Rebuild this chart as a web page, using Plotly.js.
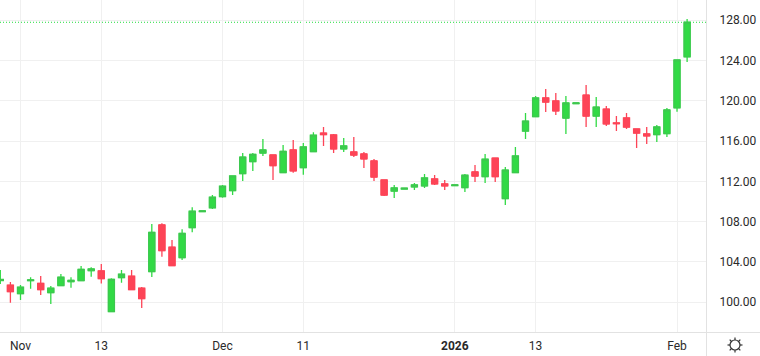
<!DOCTYPE html>
<html><head><meta charset="utf-8">
<script src="https://cdn.plot.ly/plotly-3.0.1.min.js"></script>
<style>html,body{margin:0;padding:0;background:#fff}#c{width:760px;height:356px}</style>
</head><body><div id="c"></div>
<script>
const highs=[103.2,102.01,101.72,102.48,102.61,101.62,102.81,102.48,103.6,103.47,103.8,102.38,103.2,103.2,101.52,107.77,107.84,106.18,107.24,109.42,109.06,110.64,111.64,112.56,114.81,114.81,116.2,114.61,115.6,116.1,115.8,116.86,117.39,116.7,116.3,116.4,114.91,114.22,112.13,111.64,111.31,111.83,112.73,112.63,112.13,111.64,112.73,113.62,114.71,114.31,113.42,115.41,118.78,120.47,121.16,120.76,120.47,119.77,121.56,120.37,119.47,118.48,118.78,117.19,117.39,117.59,119.27,124.11,128.1];
const lows=[101.82,99.96,100.23,101.35,100.72,99.83,101.65,101.45,102.14,102.54,101.85,99.07,101.94,101.25,99.43,102.51,104.52,103.63,104.2,106.94,108.99,109.26,110.38,110.64,112.03,113.03,114.51,112.13,112.86,112.86,112.66,114.94,115.5,114.81,114.91,114.41,113.32,112.03,110.54,110.35,111.24,111.14,111.34,111.64,111.14,111.57,110.94,111.93,111.83,111.93,109.65,112.86,116.2,118.41,118.88,118.58,116.7,119.7,117.39,117.39,117.49,116.99,117.19,115.31,115.7,115.9,116.4,118.91,123.83];
const opens=[102.16,101.69,100.85,102.14,101.88,100.95,101.65,102.04,102.14,103.13,103.11,99.07,102.44,102.58,101.39,103.04,107.67,105.46,104.42,107.4,108.99,109.38,110.48,111.07,112.76,113.95,114.81,114.61,112.86,115.11,113.35,114.94,116.79,116.6,115.21,114.91,114.71,114.02,112.13,111.04,111.24,111.44,111.54,112.23,111.74,111.57,111.37,112.93,112.46,114.31,110.28,112.86,116.99,118.41,120.27,119.97,118.28,119.7,120.56,118.48,119.17,117.79,118.28,117.19,116.7,116.63,116.73,119.3,124.36];
const closes=[102.26,101.05,101.49,102.21,101.25,101.39,102.48,102.18,103.27,103.3,102.34,102.28,102.78,101.25,100.36,106.94,105.12,103.63,106.84,109.03,109.06,110.42,111.51,112.53,114.41,114.68,115.11,113.55,114.98,113.03,115.41,116.57,116.63,115.21,115.51,114.61,114.22,112.43,110.64,111.34,111.31,111.64,112.33,111.74,111.54,111.64,112.6,112.53,114.19,112.46,113.12,114.51,117.98,120.27,119.87,118.98,119.77,119.77,118.48,119.37,117.69,117.72,117.39,116.79,116.5,117.39,119.08,124.04,127.78];
const xTickVals=[2,10,22,30,45,53,67];
const xTickText=['Nov','13','Dec','11','<b>2026</b>','13','Feb'];
const yTickVals=[100,104,108,112,116,120,124,128];
const yTickText=yTickVals.map(v=>v.toFixed(2));
const idx=closes.map((_,i)=>i);
const UP='#31da45',DN='#fd4457',UPB='#40c451',DNB='#fd4457',W=760,H=356,PW=706,PH=332;
const wicks={type:'candlestick',x:idx,open:opens,high:highs,low:lows,close:closes,whiskerwidth:0,
 increasing:{line:{color:UP,width:1.3},fillcolor:UP},decreasing:{line:{color:DN,width:1.3},fillcolor:DN},hoverinfo:'none',showlegend:false};
const bodies={type:'candlestick',x:idx,open:opens,close:closes,
 high:opens.map((o,i)=>Math.max(o,closes[i])),low:opens.map((o,i)=>Math.min(o,closes[i])),whiskerwidth:0,
 increasing:{line:{color:UPB,width:1},fillcolor:UP},decreasing:{line:{color:DNB,width:1},fillcolor:DN},hoverinfo:'none',showlegend:false};
const px=x=>x/PW, py=y=>1-y/PH;
const frame='#e2e2e2';
const shapes=[
 {type:'line',xref:'paper',yref:'y',x0:0,x1:1,y0:closes[closes.length-1],y1:closes[closes.length-1],line:{color:'#20dc3c',width:1,dash:'1px,2px'},layer:'below'},
 {type:'line',xref:'paper',yref:'paper',x0:0,x1:px(W),y0:py(332.5),y1:py(332.5),line:{color:frame,width:1}},
 {type:'line',xref:'paper',yref:'paper',x0:px(706.5),x1:px(706.5),y0:1,y1:py(H),line:{color:frame,width:1}},
 {type:'circle',xref:'paper',yref:'paper',x0:px(730),x1:px(740),y0:py(350),y1:py(340),line:{color:'#333',width:1.2}}
];
for(let k=0;k<8;k++){const a=k*Math.PI/4,c=Math.cos(a),s=Math.sin(a);
 shapes.push({type:'line',xref:'paper',yref:'paper',x0:px(735+c*5),x1:px(735+c*7.5),y0:py(345+s*5),y1:py(345+s*7.5),line:{color:'#333',width:1.2}});}
const layout={width:W,height:H,margin:{l:0,r:54,t:0,b:24},paper_bgcolor:'#fff',plot_bgcolor:'#fff',showlegend:false,boxgap:0.4,boxgroupgap:0,
 font:{family:'Roboto, sans-serif',size:12,color:'#2a2a2a'},
 xaxis:{type:'linear',range:[-0.03,69.87],tickmode:'array',tickvals:xTickVals,ticktext:xTickText,showgrid:true,gridcolor:'#f0f0f0',gridwidth:1,zeroline:false,showline:false,ticks:'outside',ticklen:3,tickcolor:'rgba(0,0,0,0)',rangeslider:{visible:false},tickfont:{size:12,color:'#2a2a2a'}},
 yaxis:{side:'right',range:[97.05,129.99],tickmode:'array',tickvals:yTickVals,ticktext:yTickText,showgrid:true,gridcolor:'#f0f0f0',gridwidth:1,zeroline:false,showline:false,ticks:'outside',ticklen:10,tickcolor:'rgba(0,0,0,0)',tickfont:{size:12,color:'#2a2a2a'}},
 shapes};
Plotly.newPlot('c',[wicks,bodies],layout,{displayModeBar:false,staticPlot:true});
</script></body></html>
